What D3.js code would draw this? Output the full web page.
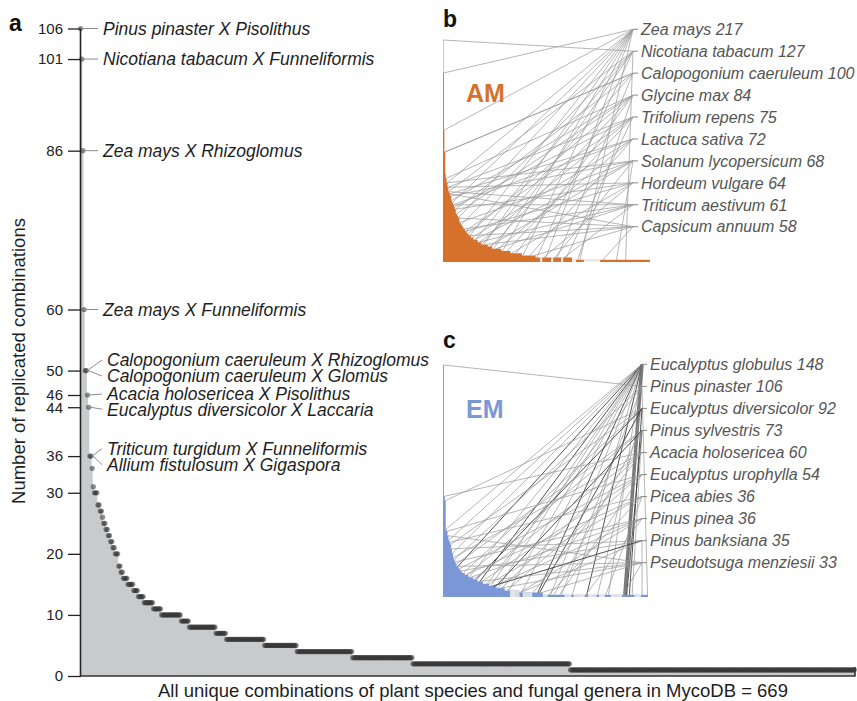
<!DOCTYPE html>
<html>
<head>
<meta charset="utf-8">
<script src="https://cdn.jsdelivr.net/npm/d3@7"></script>
<style>
  body { margin: 0; background: #fff; }
  text { font-family: "Liberation Sans", Arial, sans-serif; }
</style>
</head>
<body>
<svg width="857" height="701"></svg>
<script>
// main panel: [value, number of combinations with that value], in rank order
const mainRuns = [
  [106, 1], [101, 1], [86, 1], [60, 1], [50, 2], [46, 1], [44, 1], [36, 2],
  [34, 1], [31, 1], [30, 3], [28, 2], [27, 2], [26, 1], [25, 2], [24, 2],
  [23, 2], [22, 2], [21, 2], [20, 3], [18, 2], [17, 2], [16, 4], [15, 5],
  [14, 4], [13, 5], [12, 8], [11, 7], [10, 17], [9, 7], [8, 23], [7, 9],
  [6, 33], [5, 28], [4, 48], [3, 52], [2, 136], [1, 246]
];
const yTicks = [0, 10, 20, 30, 36, 44, 46, 50, 60, 86, 101, 106];
const mainLabels = [
  "Pinus pinaster X Pisolithus",
  "Nicotiana tabacum X Funneliformis",
  "Zea mays X Rhizoglomus",
  "Zea mays X Funneliformis",
  "Calopogonium caeruleum X Rhizoglomus",
  "Calopogonium caeruleum X Glomus",
  "Acacia holosericea X Pisolithus",
  "Eucalyptus diversicolor X Laccaria",
  "Triticum turgidum X Funneliformis",
  "Allium fistulosum X Gigaspora"
];

// inset b (AM): [value, count, 1 = AM bar / 0 = empty]
const amRuns = [
  [101, 1], [86, 1], [60, 1], [50, 2], [40, 1], [38, 2], [36, 2], [34, 2],
  [32, 2], [31, 2], [30, 2], [28, 2], [27, 2], [26, 2], [25, 2], [24, 2],
  [22, 3], [21, 2], [20, 3], [18, 3], [17, 3], [16, 3], [15, 3], [14, 4],
  [13, 4], [12, 5], [11, 6], [10, 9], [9, 8], [8, 14], [7, 10], [6, 20],
  [5, 20], [4, 25], [3, 30], [2, 10], [2, 4, 0], [2, 20], [2, 4, 0], [2, 18],
  [2, 4, 0], [2, 20], [1, 8, 0], [1, 18], [1, 35, 0], [1, 110]
];
const amLabels = [
  "Zea mays 217", "Nicotiana tabacum 127", "Calopogonium caeruleum 100",
  "Glycine max 84", "Trifolium repens 75", "Lactuca sativa 72",
  "Solanum lycopersicum 68", "Hordeum vulgare 64", "Triticum aestivum 61",
  "Capsicum annuum 58"
];
const amLinks = [
  [1, 2, 9, 20, 33, 58, 90, 130, 175, 225, 300],
  [0, 12, 40, 70, 110, 205, 400],
  [3, 4, 27, 85, 250],
  [6, 18, 30, 55, 105, 160, 295],
  [10, 24, 48, 80, 140, 270],
  [14, 22, 62, 120, 190],
  [8, 16, 37, 68, 100, 245, 380],
  [11, 26, 50, 150, 220],
  [13, 23, 45, 78, 115, 265],
  [15, 34, 57, 95, 200, 350]
];

// inset c (EM): [value, count, 1 = EM bar / 0 = other]
const emRuns = [
  [106, 1], [46, 1], [44, 1], [31, 1], [30, 1], [28, 1], [26, 1], [25, 1],
  [24, 1], [22, 1], [20, 1], [18, 1], [17, 1], [16, 1], [15, 1], [14, 2],
  [13, 2], [12, 2], [11, 3], [10, 4], [9, 5], [8, 5], [7, 6], [6, 7],
  [5, 8], [4, 9], [3, 6], [3, 10, 0], [2, 4], [2, 10, 0], [2, 12], [1, 5, 0],
  [1, 19], [1, 7, 0], [1, 3], [1, 12, 0], [1, 4], [1, 9, 0], [1, 3], [1, 6, 0],
  [1, 7], [1, 12, 0], [1, 14], [1, 7, 0], [1, 8]
];
const emLabels = [
  "Eucalyptus globulus 148", "Pinus pinaster 106", "Eucalyptus diversicolor 92",
  "Pinus sylvestris 73", "Acacia holosericea 60", "Eucalyptus urophylla 54",
  "Picea abies 36", "Pinus pinea 36", "Pinus banksiana 35",
  "Pseudotsuga menziesii 33"
];
// [bar rank, weight]
const emLinks = [
  [[3, 1], [6, 1], [10, 1], [16, 2], [28, 1], [40, 2], [52, 1], [60, 1], [72, 1],
   [86, 1], [104, 2], [118, 1], [142, 1], [158, 2], [182, 1], [200, 3]],
  [[0, 1], [12, 1], [48, 1], [130, 1], [225, 1]],
  [[2, 1], [8, 1], [22, 1], [36, 2], [106, 2], [170, 1], [205, 2]],
  [[14, 1], [26, 1], [58, 2], [122, 1], [202, 2], [208, 1]],
  [[1, 1], [11, 1], [33, 1], [64, 1], [99, 1]],
  [[4, 1], [18, 1], [42, 1], [70, 1], [128, 1]],
  [[7, 1], [24, 1], [50, 1], [116, 1], [179, 1]],
  [[13, 1], [30, 1], [56, 1], [84, 1], [157, 1]],
  [[9, 1], [20, 1], [54, 2], [85, 1], [219, 1]],
  [[5, 1], [15, 1], [38, 1], [62, 1], [108, 1], [198, 1]]
];

const expand = (runs) => {
  const out = [];
  runs.forEach(([v, n, on = 1]) => {
    for (let k = 0; k < n; k++) out.push({ v, on });
  });
  return out;
};

const svg = d3.select("svg");

// ---------- panel a ----------
const vals = expand(mainRuns);
const x = d3.scaleLinear().domain([0, vals.length]).range([80, 855]);
const y = d3.scaleLinear().domain([0, 106]).range([676, 28.5]);

const areaData = vals.map((d, i) => [i, d.v]);
areaData.push([vals.length, vals[vals.length - 1].v]);

svg.append("path")
  .datum(areaData)
  .attr("fill", "#c9cacc")
  .attr("d", d3.area()
    .x((d) => x(d[0]))
    .y0(y(0))
    .y1((d) => y(d[1]))
    .curve(d3.curveStepAfter));

svg.append("g")
  .selectAll("circle")
  .data(vals)
  .join("circle")
  .attr("cx", (d, i) => x(i + 0.5))
  .attr("cy", (d) => y(d.v))
  .attr("r", 2.6)
  .attr("fill", "#333")
  .attr("opacity", 0.55);

const yAxis = svg.append("g")
  .attr("transform", "translate(80,0)")
  .call(d3.axisLeft(y).tickValues(yTicks).tickSize(12).tickSizeOuter(0).tickPadding(5));
yAxis.select(".domain").attr("stroke", "#222").attr("stroke-width", 1.6);
yAxis.selectAll(".tick line").attr("stroke", "#222").attr("stroke-width", 1.3).attr("x2", -12).attr("x1", 1);
yAxis.selectAll(".tick text")
  .attr("fill", "#222")
  .style("font-size", "15px")
  .style("font-family", "'Liberation Sans', Arial, sans-serif");

// x axis baseline with end tick
svg.append("path")
  .attr("d", `M80,${y(0)}H${x(vals.length)}V${y(0) - 9}`)
  .attr("fill", "none")
  .attr("stroke", "#333")
  .attr("stroke-width", 1.6);

// labels on top combinations
const labelDy = [0, 0, 0, 0, -10.5, 5.5, -1, 2, -7.5, 8.5];
const labelX = [103, 103, 103, 103, 107, 107, 107, 107, 107, 107];
const labG = svg.append("g");
mainLabels.forEach((name, i) => {
  const cx = x(i + 0.5), cy = y(vals[i].v);
  const ty = cy + labelDy[i];
  labG.append("line")
    .attr("x1", cx + 2).attr("y1", cy)
    .attr("x2", labelX[i] - 5).attr("y2", ty)
    .attr("stroke", "#8c8c8c")
    .attr("stroke-width", 1);
  labG.append("text")
    .attr("x", labelX[i])
    .attr("y", ty)
    .attr("dy", "0.36em")
    .attr("fill", "#1e1e1e")
    .style("font-size", "17.5px")
    .style("font-style", "italic")
    .text(name);
});

svg.append("text")
  .attr("transform", "translate(25,361) rotate(-90)")
  .attr("text-anchor", "middle")
  .attr("fill", "#1e1e1e")
  .style("font-size", "18.5px")
  .text("Number of replicated combinations");

svg.append("text")
  .attr("x", 473)
  .attr("y", 697)
  .attr("text-anchor", "middle")
  .attr("fill", "#1e1e1e")
  .style("font-size", "18.5px")
  .text("All unique combinations of plant species and fungal genera in MycoDB = 669");

svg.append("text")
  .attr("x", 9).attr("y", 31)
  .attr("fill", "#111")
  .style("font-size", "23px")
  .style("font-weight", "bold")
  .text("a");

// ---------- insets ----------
function inset(opt) {
  const bars = expand(opt.runs);
  const xs = d3.scaleLinear().domain([0, bars.length]).range(opt.xRange);
  const ys = d3.scaleLinear().domain([0, opt.max]).range(opt.yRange);
  const ly = d3.scalePoint().domain(opt.labels).range(opt.labelRange);
  const g = svg.append("g");

  // bar silhouette as one stepped shape (no seams between thin bars)
  const sil = bars.map((d, i) => [i, d.v]);
  sil.push([bars.length, bars[bars.length - 1].v]);
  g.append("path")
    .datum(sil)
    .attr("fill", opt.color)
    .attr("d", d3.area()
      .x((d) => xs(d[0]))
      .y0(ys(0))
      .y1((d) => ys(d[1]))
      .curve(d3.curveStepAfter));

  // bars that do not belong to this group
  g.append("g")
    .selectAll("rect")
    .data(bars.map((d, i) => ({ ...d, i })).filter((d) => !d.on))
    .join("rect")
    .attr("x", (d) => xs(d.i))
    .attr("y", (d) => ys(d.v))
    .attr("width", xs(1) - xs(0) + 0.3)
    .attr("height", (d) => ys(0) - ys(d.v))
    .attr("fill", opt.offColor);

  const lg = g.append("g").attr("fill", "none");
  opt.links.forEach((list, li) => {
    const yy = ly(opt.labels[li]);
    list.forEach((lk) => {
      const r = Array.isArray(lk) ? lk[0] : lk;
      const wt = Array.isArray(lk) ? lk[1] : 1;
      lg.append("line")
        .attr("x1", xs(r + 0.5)).attr("y1", ys(bars[r].v))
        .attr("x2", opt.anchorX).attr("y2", yy)
        .attr("stroke", wt === 1 ? "#999" : wt === 2 ? "#3d3d3d" : "#6b6b6b")
        .attr("stroke-width", wt === 1 ? 0.8 : wt === 2 ? 1 : 3.5)
        .attr("stroke-opacity", 0.9);
    });
    lg.append("line")
      .attr("x1", opt.anchorX).attr("y1", yy)
      .attr("x2", opt.anchorX + 5).attr("y2", yy)
      .attr("stroke", "#888")
      .attr("stroke-width", 1);
  });

  g.append("g")
    .selectAll("text")
    .data(opt.labels)
    .join("text")
    .attr("x", opt.anchorX + 8)
    .attr("y", (d) => ly(d))
    .attr("dy", "0.36em")
    .attr("fill", "#555")
    .style("font-size", "16px")
    .style("font-style", "italic")
    .text((d) => d);

  g.append("text")
    .attr("x", opt.xRange[0] + 23)
    .attr("y", opt.tagY)
    .attr("fill", opt.color)
    .style("font-size", "25px")
    .style("font-weight", "bold")
    .text(opt.tag);

  g.append("text")
    .attr("x", opt.xRange[0])
    .attr("y", opt.letterY)
    .attr("fill", "#111")
    .style("font-size", "23px")
    .style("font-weight", "bold")
    .text(opt.letter);
}

inset({
  runs: amRuns, labels: amLabels, links: amLinks, max: 101,
  xRange: [443, 650], yRange: [262, 40], labelRange: [29.3, 226.7],
  anchorX: 633, color: "#d6712c", offColor: "#f6f6f6",
  tag: "AM", tagY: 102, letter: "b", letterY: 27
});

inset({
  runs: emRuns, labels: emLabels, links: emLinks, max: 106,
  xRange: [443, 648], yRange: [597, 365], labelRange: [364.3, 562.7],
  anchorX: 642, color: "#7b97d6", offColor: "#e6e6e6",
  tag: "EM", tagY: 418, letter: "c", letterY: 348
});
</script>
</body>
</html>
